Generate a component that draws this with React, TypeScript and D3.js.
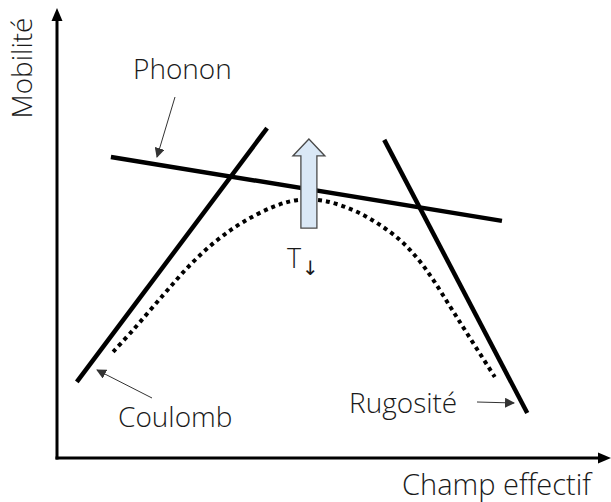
import { useEffect, useRef } from "react";
import * as d3 from "d3";

const W = 611;
const H = 502;

// schematic units: field 0..10, mobility 0..10
const coulombX = [0.36, 3.82];
const coulombY = [1.69, 7.33];
const phononX = [0.98, 8.09];
const phononY = [6.69, 5.27];
const rugositeX = [5.95, 8.55];
const rugositeY = [7.07, 1.0];

const totalX = [1.02, 1.38, 1.93, 2.42, 2.91, 3.38, 3.93, 4.36, 4.87, 5.38, 5.82, 6.24, 6.55, 6.84, 7.15, 7.45, 7.96];
const totalY = [2.36, 2.84, 3.62, 4.29, 4.84, 5.24, 5.58, 5.73, 5.71, 5.51, 5.22, 4.84, 4.44, 3.96, 3.36, 2.78, 1.8];

// temperature arrow (field position, bottom, top)
const tempArrow = [4.58, 5.11, 7.09];

const axisLabels = ["Champ effectif", "Mobilité"];

const FONT = "'Open Sans', 'Noto Sans', sans-serif";

export default function App() {
  const ref = useRef<SVGSVGElement>(null);

  useEffect(() => {
    if (!ref.current) return;
    const svg = d3.select(ref.current);
    svg.selectAll("*").remove();

    const x = d3.scaleLinear().domain([0, 10]).range([57, 607]);
    const y = d3.scaleLinear().domain([0, 10]).range([458, 8]);

    const defs = svg.append("defs");
    defs
      .append("marker")
      .attr("id", "thin")
      .attr("viewBox", "0 0 10 10")
      .attr("refX", 9)
      .attr("refY", 5)
      .attr("markerWidth", 10)
      .attr("markerHeight", 10)
      .attr("markerUnits", "userSpaceOnUse")
      .attr("orient", "auto")
      .append("path")
      .attr("d", "M0,0L10,5L0,10Z")
      .attr("fill", "#333");

    // axes
    const x0 = x(0);
    const y0 = y(0);
    svg.append("line")
      .attr("x1", x0).attr("y1", y0 + 1.5)
      .attr("x2", x0).attr("y2", y(10) + 10)
      .attr("stroke", "#000").attr("stroke-width", 3);
    svg.append("path")
      .attr("d", `M${x0},${y(10)}L${x0 - 5.5},${y(10) + 13}L${x0 + 5.5},${y(10) + 13}Z`)
      .attr("fill", "#000");
    svg.append("line")
      .attr("x1", x0 - 1.5).attr("y1", y0)
      .attr("x2", W - 10).attr("y2", y0)
      .attr("stroke", "#000").attr("stroke-width", 3);
    svg.append("path")
      .attr("d", `M${W},${y0}L${W - 13},${y0 - 5.5}L${W - 13},${y0 + 5.5}Z`)
      .attr("fill", "#000");

    const label = (s: string, size: number) =>
      svg.append("text")
        .style("font-family", FONT)
        .style("font-size", `${size}px`)
        .style("font-weight", 300)
        .attr("fill", "#1a1a1a")
        .text(s);

    label(axisLabels[0], 29).attr("x", 591).attr("y", 495).attr("text-anchor", "end");
    label(axisLabels[1], 28)
      .attr("transform", `translate(32,68) rotate(-90)`)
      .attr("text-anchor", "middle");

    const line = d3.line<[number, number]>().x((d) => x(d[0])).y((d) => y(d[1]));
    const pairs = (xs: number[], ys: number[]) => xs.map((v, i) => [v, ys[i]] as [number, number]);

    // dotted total mobility
    svg.append("path")
      .attr("d", line.curve(d3.curveCatmullRom)(pairs(totalX, totalY)))
      .attr("fill", "none")
      .attr("stroke", "#000")
      .attr("stroke-width", 4)
      .attr("stroke-dasharray", "4,4");

    line.curve(d3.curveLinear);
    [[coulombX, coulombY], [phononX, phononY], [rugositeX, rugositeY]].forEach(([xs, ys]) => {
      svg.append("path")
        .attr("d", line(pairs(xs, ys)))
        .attr("fill", "none")
        .attr("stroke", "#000")
        .attr("stroke-width", 4.5);
    });

    // block arrow
    const ax = x(tempArrow[0]);
    const ab = y(tempArrow[1]);
    const at = y(tempArrow[2]);
    const sw = 8, hw = 16, hh = 17;
    svg.append("path")
      .attr("d", `M${ax - sw},${ab}L${ax - sw},${at + hh}L${ax - hw},${at + hh}L${ax},${at}L${ax + hw},${at + hh}L${ax + sw},${at + hh}L${ax + sw},${ab}Z`)
      .attr("fill", "#dae8f6")
      .attr("stroke", "#4a4a4a")
      .attr("stroke-width", 1.3);

    const t = svg.append("text")
      .attr("x", ax - 22).attr("y", ab + 40)
      .style("font-family", FONT)
      .style("font-size", "27px")
      .style("font-weight", 300)
      .attr("fill", "#1a1a1a");
    t.append("tspan").text("T");
    t.append("tspan")
      .attr("dx", 1)
      .attr("dy", 7)
      .style("font-family", "'DejaVu Sans', sans-serif")
      .style("font-size", "20px")
      .style("font-weight", 400)
      .text("↓");

    // annotation labels
    const labels = [
      { text: "Phonon", tx: 133, ty: 79, from: [175, 97], to: [157, 157] },
      { text: "Coulomb", tx: 118, ty: 427, from: [152, 398], to: [97, 370] },
      { text: "Rugosité", tx: 349, ty: 413, from: [477, 402], to: [514, 403] },
    ];
    labels.forEach((l) => {
      label(l.text, 28).attr("x", l.tx).attr("y", l.ty);
      svg.append("line")
        .attr("x1", l.from[0]).attr("y1", l.from[1])
        .attr("x2", l.to[0]).attr("y2", l.to[1])
        .attr("stroke", "#333")
        .attr("stroke-width", 1)
        .attr("marker-end", "url(#thin)");
    });
  }, []);

  return (
    <svg
      ref={ref}
      width={W}
      height={H}
      style={{ position: "absolute", left: 0, top: 0, background: "#fff" }}
    />
  );
}
